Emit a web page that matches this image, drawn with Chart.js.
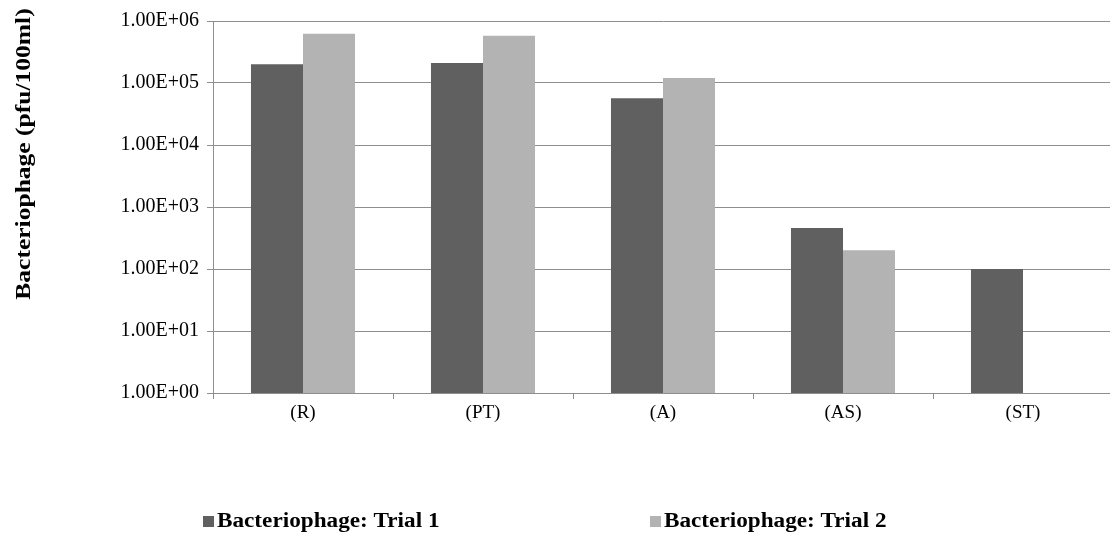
<!DOCTYPE html>
<html>
<head>
<meta charset="utf-8">
<script src="https://cdn.jsdelivr.net/npm/chart.js@4/dist/chart.umd.min.js"></script>
<style>
  html, body { margin: 0; padding: 0; background: #ffffff; overflow: hidden; }
  canvas { display: block; }
</style>
</head>
<body>
<canvas id="chart" width="1113" height="536"></canvas>
<script>
// Sampling sites
const categories = ['(R)', '(PT)', '(A)', '(AS)', '(ST)'];

// Bacteriophage counts, pfu/100ml
const trial1 = [2.0e5, 2.1e5, 5.7e4, 460, 100];
const trial2 = [6.2e5, 5.8e5, 1.2e5, 200, null];

const seriesNames = ['Bacteriophage: Trial 1', 'Bacteriophage: Trial 2'];

// Logarithmic axis ticks and their labels
const yTickValues = [1, 10, 100, 1000, 10000, 100000, 1000000];
const yTickLabels = ['1.00E+00', '1.00E+01', '1.00E+02', '1.00E+03', '1.00E+04', '1.00E+05', '1.00E+06'];

const axisTitle = 'Bacteriophage (pfu/100ml)';

const DARK = '#606060';
const LIGHT = '#b3b3b3';
const GRID = '#8e8e8e';
const SERIF = '"Liberation Serif", "Times New Roman", serif';
const WIDE = 1.16; // horizontal widening of the bold captions

// Rotated y-axis title on the far left
const sideTitle = {
  id: 'sideTitle',
  afterDraw(chart) {
    const ctx = chart.ctx;
    ctx.save();
    ctx.translate(24, 154);
    ctx.rotate(-Math.PI / 2);
    ctx.scale(WIDE, 1);
    ctx.font = 'bold 22px ' + SERIF;
    ctx.fillStyle = '#000000';
    ctx.textAlign = 'center';
    ctx.textBaseline = 'middle';
    ctx.fillText(axisTitle, 0, 0);
    ctx.restore();
  }
};

// Series key along the bottom edge
const bottomKey = {
  id: 'bottomKey',
  afterDraw(chart) {
    const ctx = chart.ctx;
    const starts = [203, 650];
    ctx.save();
    ctx.font = 'bold 20px ' + SERIF;
    ctx.textBaseline = 'middle';
    ctx.textAlign = 'left';
    chart.data.datasets.forEach((ds, i) => {
      const x = starts[i];
      ctx.fillStyle = ds.backgroundColor;
      ctx.fillRect(x, 516, 11, 11);
      ctx.save();
      ctx.translate(x + 14, 522);
      ctx.scale(WIDE, 1);
      ctx.fillStyle = '#000000';
      ctx.fillText(ds.label, 0, 0);
      ctx.restore();
    });
    ctx.restore();
  }
};

new Chart(document.getElementById('chart'), {
  type: 'bar',
  data: {
    labels: categories,
    datasets: [
      { label: seriesNames[0], data: trial1, backgroundColor: DARK, borderWidth: 0 },
      { label: seriesNames[1], data: trial2, backgroundColor: LIGHT, borderWidth: 0 }
    ]
  },
  options: {
    responsive: false,
    animation: false,
    devicePixelRatio: 1,
    layout: { padding: { top: 21, right: 0, bottom: 0, left: 0 } },
    datasets: { bar: { categoryPercentage: 0.578, barPercentage: 1.0 } },
    plugins: {
      legend: { display: false },
      tooltip: { enabled: false },
      title: { display: false }
    },
    scales: {
      x: {
        offset: true,
        grid: {
          offset: true,
          drawOnChartArea: false,
          drawTicks: true,
          tickLength: 6,
          color: GRID,
          lineWidth: 1
        },
        border: { display: true, color: GRID, width: 1 },
        ticks: {
          color: '#000000',
          padding: 3,
          font: { family: SERIF, size: 19 }
        },
        afterFit(scale) { scale.height = 143; }
      },
      y: {
        type: 'logarithmic',
        min: 1,
        max: 1000000,
        afterBuildTicks(scale) {
          scale.ticks = yTickValues.map(v => ({ value: v, major: true }));
        },
        afterFit(scale) { scale.width = 213; },
        grid: {
          color: GRID,
          lineWidth: 1,
          drawTicks: true,
          tickLength: 6
        },
        border: { display: true, color: GRID, width: 1 },
        ticks: {
          color: '#000000',
          padding: 8,
          autoSkip: false,
          font: { family: SERIF, size: 20 },
          callback(value) {
            const i = yTickValues.indexOf(value);
            return i >= 0 ? yTickLabels[i] : '';
          }
        }
      }
    }
  },
  plugins: [sideTitle, bottomKey]
});
</script>
</body>
</html>
